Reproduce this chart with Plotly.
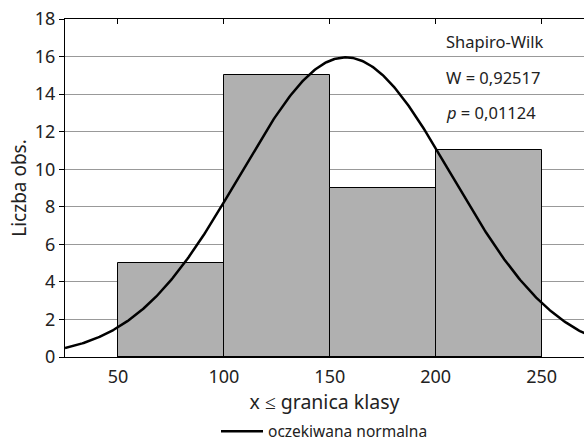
import numpy as np
import plotly.graph_objects as go

bin_left = [50, 100, 150, 200]
bin_width = 50
counts = [5, 15, 9, 11]
x_ticks = [50, 100, 150, 200, 250]
y_ticks = [0, 2, 4, 6, 8, 10, 12, 14, 16, 18]
# fitted normal parameters (expected normal curve)
fit_mean = 157.5
fit_sd = 50.0
n_obs = sum(counts)

mids = [b + bin_width / 2 for b in bin_left]
xs = np.linspace(25, 275, 400)
ys = n_obs * bin_width / (fit_sd * np.sqrt(2 * np.pi)) * np.exp(-0.5 * ((xs - fit_mean) / fit_sd) ** 2)

font = "Noto Sans"
fig = go.Figure()
fig.add_trace(go.Bar(x=mids, y=counts, width=bin_width,
                     marker=dict(color="#b0b0b0", line=dict(color="black", width=1)),
                     showlegend=False))
fig.add_trace(go.Scatter(x=xs, y=ys, mode="lines", line=dict(color="black", width=2.5),
                         name="oczekiwana normalna"))

fig.update_layout(
    width=584, height=446,
    margin=dict(l=65, r=0, t=19, b=89, autoexpand=False),
    paper_bgcolor="white", plot_bgcolor="white",
    font=dict(family=font, color="#222", size=18),
    bargap=0,
    legend=dict(orientation="h", x=0.5, xanchor="center", yref="container", y=0.032,
                yanchor="middle", font=dict(size=15.5), itemwidth=42,
                bgcolor="rgba(0,0,0,0)"),
    xaxis=dict(range=[25, 270], tickvals=x_ticks, showgrid=False, zeroline=False,
               showline=True, linecolor="black", linewidth=1, mirror="ticks",
               ticks="inside", ticklen=5, tickcolor="black", automargin=False,
               ticklabelstandoff=3, tickfont=dict(size=18),
               title=dict(text="x ≤ granica klasy", standoff=3, font=dict(size=19.5))),
    yaxis=dict(range=[0, 18], tickvals=y_ticks, showgrid=True, gridcolor="#999", gridwidth=1,
               zeroline=False, showline=True, linecolor="black", linewidth=1,
               ticks="outside", ticklen=5, tickcolor="black", automargin=False,
               tickfont=dict(size=18),
               title=dict(text="Liczba obs.", standoff=3, font=dict(size=19))),
)
ann = [("Shapiro-Wilk", 16.8), ("W = 0,92517", 14.9), ("<i>p</i> = 0,01124", 13.0)]
for t, yv in ann:
    fig.add_annotation(x=204, y=yv, xref="x", yref="y", text=t, showarrow=False,
                       xanchor="left", yanchor="middle", font=dict(size=16.5, family=font, color="#222"))
fig.write_html("out.html")
